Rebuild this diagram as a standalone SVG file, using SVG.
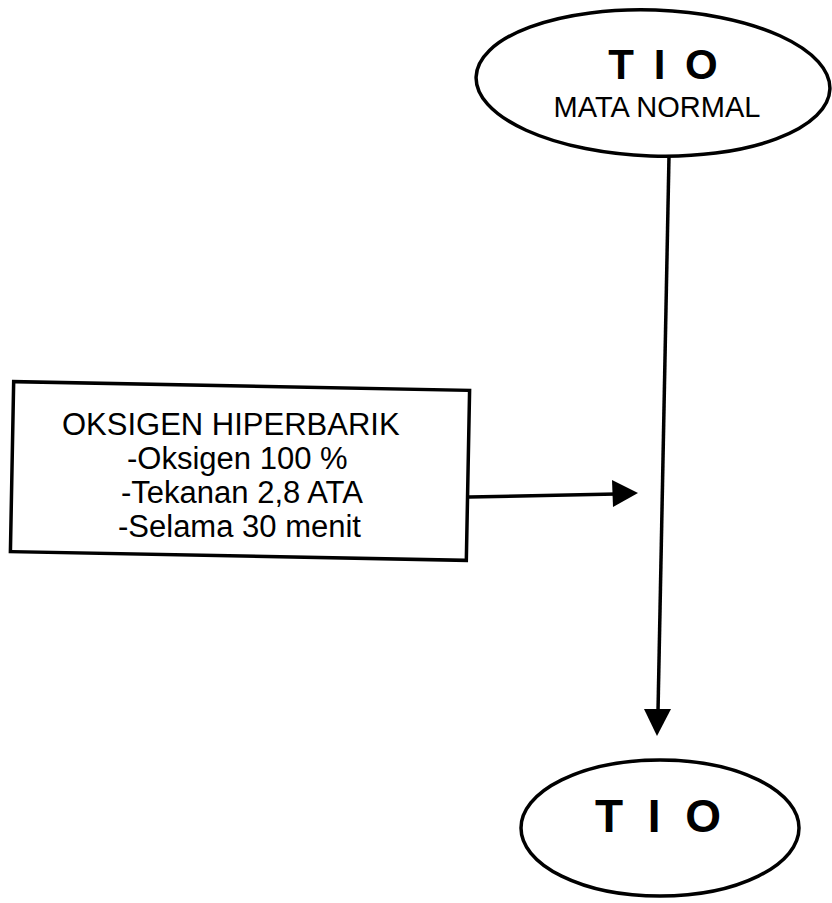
<svg xmlns="http://www.w3.org/2000/svg" width="832" height="903" viewBox="0 0 832 903">
<style>
.shape{fill:none;stroke:#000;stroke-width:3.5}
.line{stroke:#000;stroke-width:3.5;fill:none}
.head{fill:#000}
.big{font-family:"Liberation Sans",Arial,sans-serif;font-weight:bold;fill:#000;text-anchor:middle}
.txt{font-family:"Liberation Sans",Arial,sans-serif;fill:#000;text-anchor:middle}
.lft{font-family:"Liberation Sans",Arial,sans-serif;fill:#000}
</style>
<rect width="832" height="903" fill="#fff"/>
<g id="node-tio-top">
<ellipse class="shape" cx="653" cy="83" rx="177" ry="73" transform="rotate(2 653 83)"/>
<text class="big" x="665" y="79" font-size="42" letter-spacing="4">T I O</text>
<text class="txt" x="657" y="117" font-size="29">MATA NORMAL</text>
</g>
<g id="node-oksigen">
<rect class="shape" x="12" y="386" width="456" height="170" transform="rotate(1.1 240 471)"/>
<text class="lft" font-size="31">
<tspan x="62" y="435">OKSIGEN HIPERBARIK</tspan>
<tspan x="127" y="469">-Oksigen 100 %</tspan>
<tspan x="121" y="503">-Tekanan 2,8 ATA</tspan>
<tspan x="118" y="537">-Selama 30 menit</tspan>
</text>
</g>
<g id="node-tio-bottom">
<ellipse class="shape" cx="660" cy="828" rx="139" ry="68"/>
<text class="big" x="661" y="832" font-size="46" letter-spacing="6">T I O</text>
</g>
<g id="connectors">
<line class="line" x1="669" y1="156" x2="658" y2="712"/>
<polygon class="head" points="644,709 671,709 657,736"/>
<line class="line" x1="469" y1="497" x2="616" y2="494"/>
<polygon class="head" points="612,480 613,507 638,493"/>
</g>
</svg>
